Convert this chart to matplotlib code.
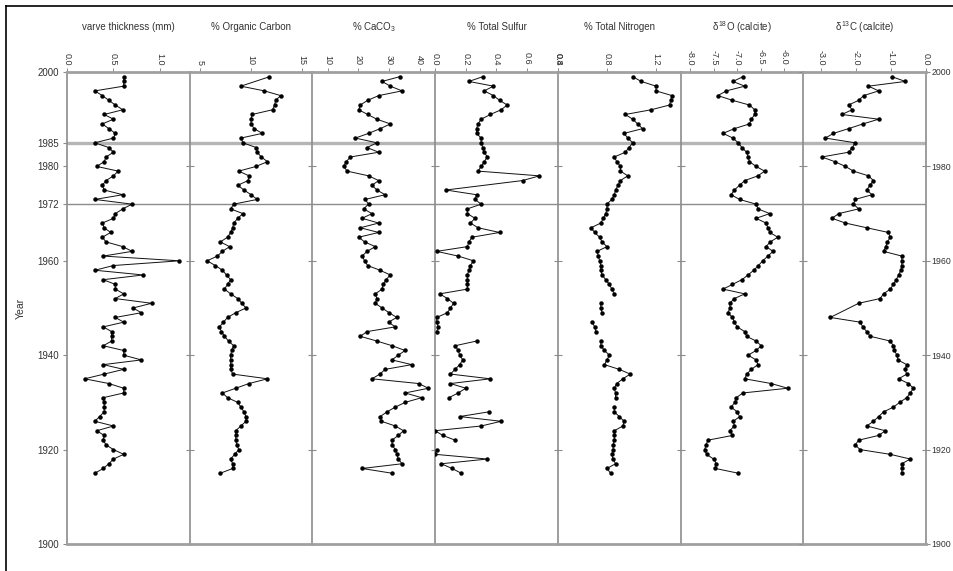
import matplotlib
matplotlib.use("Agg")
import matplotlib.pyplot as plt
import numpy as np
from matplotlib.lines import Line2D

plt.rcParams['font.family'] = ['Liberation Sans', 'DejaVu Sans']
plt.rcParams['mathtext.fontset'] = 'custom'
plt.rcParams['mathtext.rm'] = 'Liberation Sans'
plt.rcParams['mathtext.it'] = 'Liberation Sans'

# ---- data (year, value); nan = gap in the line ----
varve_years = list(range(1999, 1914, -1))
varve = [0.61, 0.61, 0.61, 0.30, 0.38, 0.45, 0.52, 0.60, 0.40, 0.50,
         0.38, 0.45, 0.52, 0.50, 0.30, 0.45, 0.50, 0.42, 0.40, 0.32,
         0.55, 0.50, 0.42, 0.38, 0.40, 0.60, 0.30, 0.70, 0.60, 0.52,
         0.50, 0.38, 0.40, 0.47, 0.38, 0.42, 0.60, 0.70, 0.39, 1.21,
         0.50, 0.30, 0.82, 0.39, 0.52, 0.52, 0.61, 0.52, 0.91, 0.71,
         0.80, 0.52, 0.61, 0.39, 0.48, 0.48, 0.48, 0.39, 0.61, 0.61,
         0.80, 0.39, 0.61, 0.40, 0.19, 0.45, 0.61, 0.61, 0.39, 0.40,
         0.40, 0.40, 0.35, 0.30, 0.50, 0.32, 0.40, 0.39, 0.42, 0.50,
         0.61, 0.50, 0.45, 0.39, 0.30]

oc_years = [1999] + list(range(1997, 1914, -1))
org_carbon = [11.8, 9.0, 11.3, 12.9, 12.4, 12.3, 12.1, 10.1, 10.0, 10.0,
              10.3, 11.1, 9.0, 9.2, 10.5, 10.6, 11.0, 11.6, 10.5, 8.8,
              9.8, 9.7, 8.7, 9.3, 10.0, 10.6, 8.3, 8.0, 9.2, 8.7,
              8.3, 8.2, 8.0, 7.7, 7.0, 7.9, 7.2, 6.7, 5.7, 6.5,
              7.2, 7.6, 8.0, 7.7, 7.4, 8.0, 8.7, 9.1, 9.5, 8.5,
              7.7, 7.3, 6.9, 7.1, 7.4, 7.8, 8.3, 8.1, 8.0, 8.0,
              8.0, 8.0, 8.2, 11.6, 9.8, 8.5, 7.2, 7.7, 8.7, 9.0,
              9.3, 9.5, 9.5, 9.0, 8.5, 8.5, 8.5, 8.6, 8.8, 8.4,
              8.0, 8.2, 8.2, 7.0]

caco3_years = list(range(1999, 1914, -1))
caco3 = [33.4, 27.7, 30.4, 34.2, 26.6, 23.0, 20.6, 20.1, 23.0, 26.0,
         30.4, 27.1, 23.3, 19.0, 26.0, 22.8, 26.6, 17.4, 16.0, 15.2,
         16.3, 23.3, 26.6, 24.4, 26.0, 28.7, 22.2, 23.3, 21.7, 24.4,
         21.2, 26.6, 20.6, 26.6, 20.1, 22.0, 25.5, 22.8, 21.2, 22.0,
         23.0, 27.0, 30.4, 29.0, 28.0, 27.7, 25.5, 26.0, 25.5, 27.7,
         30.0, 32.5, 29.8, 32.0, 22.8, 20.6, 26.0, 31.0, 35.2, 33.0,
         30.9, 37.4, 28.7, 27.0, 24.4, 39.6, 42.8, 35.2, 40.6, 35.2,
         32.0, 29.3, 27.1, 27.5, 32.0, 34.7, 33.0, 30.9, 31.0, 32.0,
         32.5, 33.0, 34.2, 21.2, 30.9]

sulfur_years = [1999, 1998, 1997, 1996, 1995, 1994, 1993, 1992, 1991, 1990,
                1989, 1988, 1987, 1986, 1985, 1984, 1983, 1982, 1981, 1980,
                1979, 1978, 1977, 1975, 1974, 1973, 1972, 1971, 1970, 1969,
                1968, 1967, 1966, 1965, 1964, 1963, 1962, 1961, 1960, 1959,
                1958, 1957, 1956, 1955, 1954, 1953, 1952, 1951, 1950, 1949,
                1948, 1947, 1946, 1945, 1944, 1943, 1942, 1941, 1940, 1939,
                1938, 1937, 1936, 1935, 1934, 1933, 1932, 1931, 1929.5, 1928,
                1927, 1926, 1925, 1924, 1923, 1922, 1921, 1920, 1919, 1918,
                1917, 1916, 1915]
sulfur = [0.31, 0.22, 0.38, 0.32, 0.38, 0.42, 0.47, 0.43, 0.36, 0.30,
          0.28, 0.27, 0.27, 0.30, 0.30, 0.31, 0.32, 0.34, 0.32, 0.30,
          0.28, 0.68, 0.57, 0.07, 0.27, 0.26, 0.30, 0.21, 0.21, 0.26,
          0.23, 0.28, 0.42, 0.24, 0.22, 0.21, 0.01, 0.15, 0.25, 0.23,
          0.22, 0.21, 0.21, 0.21, 0.21, 0.03, 0.08, 0.12, 0.10, 0.08,
          0.01, 0.01, 0.02, 0.01, np.nan, 0.27, 0.13, 0.15, 0.16, 0.18,
          0.16, 0.13, 0.10, 0.36, 0.10, 0.20, 0.15, 0.09, np.nan, 0.35,
          0.16, 0.43, 0.30, 0.00, 0.05, 0.13, np.nan, 0.01, 0.00, 0.34,
          0.04, 0.11, 0.17]

nitrogen_years = [1999, 1998, 1997, 1996, 1995, 1994, 1993, 1992, 1991, 1990,
                  1989, 1988, 1987, 1986, 1985, 1984, 1983, 1982, 1981, 1980,
                  1979, 1978, 1977, 1976, 1975, 1974, 1973, 1972, 1971, 1970,
                  1969, 1968, 1967, 1966, 1965, 1964, 1963, 1962, 1961, 1960,
                  1959, 1958, 1957, 1956, 1955, 1954, 1953, 1952, 1951, 1950,
                  1949, 1948, 1947, 1946, 1945, 1944, 1943, 1942, 1941, 1940,
                  1939, 1938, 1937, 1936, 1935, 1934, 1933, 1932, 1931, 1930,
                  1929, 1928, 1927, 1926, 1925, 1924, 1923, 1922, 1921, 1920,
                  1919, 1918, 1917, 1916, 1915]
nitrogen = [1.01, 1.08, 1.20, 1.20, 1.33, 1.32, 1.31, 1.16, 0.95, 1.01,
            1.05, 1.09, 0.94, 0.97, 1.01, 0.98, 0.95, 0.86, 0.88, 0.91,
            0.91, 0.97, 0.91, 0.89, 0.87, 0.86, 0.84, 0.80, 0.80, 0.79,
            0.77, 0.75, 0.67, 0.70, 0.74, 0.76, 0.80, 0.72, 0.73, 0.74,
            0.75, 0.75, 0.76, 0.79, 0.82, 0.84, 0.86, np.nan, 0.75, 0.75,
            0.76, np.nan, 0.68, 0.70, 0.71, np.nan, 0.75, 0.75, 0.78, 0.82,
            0.80, 0.78, 0.90, 0.99, 0.93, 0.88, 0.86, 0.87, 0.87, np.nan,
            0.86, 0.86, 0.90, 0.94, 0.93, 0.86, 0.86, 0.86, 0.85, 0.85,
            0.84, 0.85, 0.87, 0.80, 0.83]

d18o_years = list(range(1999, 1914, -1))
d18o = [-6.88, -7.09, -6.84, -7.23, -7.41, -7.10, -6.74, -6.63, -6.63, -6.70,
        -6.74, -7.06, -7.30, -7.09, -6.98, -6.90, -6.80, -6.77, -6.74, -6.60,
        -6.42, -6.56, -6.84, -6.95, -7.06, -7.13, -6.95, -6.60, -6.56, -6.31,
        -6.60, -6.39, -6.35, -6.31, -6.14, -6.30, -6.39, -6.24, -6.35, -6.46,
        -6.55, -6.65, -6.77, -6.90, -7.10, -7.30, -6.84, -7.06, -7.16, -7.15,
        -7.20, -7.10, -7.06, -7.00, -6.84, -6.80, -6.60, -6.49, -6.60, -6.77,
        -6.60, -6.56, -6.70, -6.80, -6.84, -6.28, -5.93, -6.88, -7.02, -7.05,
        -7.13, -7.00, -6.95, -7.08, -7.06, -7.16, -7.10, -7.62, -7.66, -7.69,
        -7.65, -7.50, -7.44, -7.46, -6.98]

d13c_years = [1999, 1998, 1997, 1996, 1995, 1994, 1993, 1992, 1991, 1990,
              1989, 1988, 1987, 1986, 1985, 1984, 1983, 1982, 1981, 1980,
              1979, 1978, 1977, 1976, 1975, 1974, 1973, 1972, 1971, 1970,
              1969, 1968, 1967, 1966, 1965, 1964, 1963, 1962, 1961, 1960,
              1959, 1958, 1957, 1956, 1955, 1954, 1953, 1952, 1951, 1948,
              1947, 1946, 1945, 1944, 1943, 1942, 1941, 1940, 1939, 1938,
              1937, 1936, 1935, 1934, 1933, 1932, 1931, 1930, 1929, 1928,
              1927, 1926, 1925, 1924, 1923, 1922, 1921, 1920, 1919, 1918,
              1917, 1916, 1915]
d13c = [-0.97, -0.59, -1.64, -1.35, -1.78, -1.92, -2.21, -2.11, -2.40, -1.35,
        -1.80, -2.21, -2.64, -2.87, -2.02, -2.10, -2.21, -2.97, -2.60, -2.30,
        -2.07, -1.64, -1.50, -1.60, -1.69, -1.54, -2.02, -2.07, -1.92, -2.49,
        -2.68, -2.30, -1.69, -1.07, -1.02, -1.10, -1.15, -1.21, -0.69, -0.69,
        -0.69, -0.72, -0.78, -0.85, -0.93, -1.02, -1.21, -1.31, -1.92, -2.73,
        -1.88, -1.80, -1.69, -1.59, -1.02, -0.93, -0.90, -0.83, -0.80, -0.55,
        -0.60, -0.55, -0.78, -0.50, -0.36, -0.45, -0.55, -0.75, -0.93, -1.21,
        -1.35, -1.50, -1.69, -1.16, -1.35, -1.92, -2.02, -1.88, -1.02, -0.45,
        -0.69, -0.69, -0.69]

titles = ['varve thickness (mm)', '% Organic Carbon', r'% CaCO$_3$',
          '% Total Sulfur', '% Total Nitrogen',
          r'$\delta^{18}$O (calcite)', r'$\delta^{13}$C (calcite)']
xlims = [(0, 1.32), (4, 16), (5, 45), (0, 0.8), (0.4, 1.4), (-8.2, -5.6), (-3.5, 0)]
xticks = [[0.0, 0.5, 1.0], [5, 10, 15], [10, 20, 30, 40],
          [0.0, 0.2, 0.4, 0.6, 0.8], [0.4, 0.8, 1.2],
          [-8.0, -7.5, -7.0, -6.5, -6.0], [-3.0, -2.0, -1.0, 0.0]]
xtick_fmt = ['{:.1f}', '{:.0f}', '{:.0f}', '{:.1f}', '{:.1f}', '{:.1f}', '{:.1f}']

series = [(varve_years, varve), (oc_years, org_carbon), (caco3_years, caco3),
          (sulfur_years, sulfur), (nitrogen_years, nitrogen),
          (d18o_years, d18o), (d13c_years, d13c)]

W, H = 954, 571
fig = plt.figure(figsize=(W / 100, H / 100), dpi=100)

left_px, right_px, top_px, bot_px = 67, 926, 72, 544
pw = (right_px - left_px) / 7
grey = '#8c8c8c'
txt = '#333333'

axes = []
for i in range(7):
    ax = fig.add_axes([(left_px + i * pw) / W, 1 - bot_px / H, pw / W, (bot_px - top_px) / H])
    yrs, vals = series[i]
    ax.plot(vals, yrs, color='#111111', lw=0.7, marker='o', ms=2.2, mfc='black', mec='black', zorder=3)
    ax.set_xlim(*xlims[i])
    ax.set_ylim(1900, 2000)
    ax.axhline(1985, color='#b5b5b5', lw=2.4, zorder=1)
    ax.axhline(1972, color=grey, lw=1.0, zorder=1)

    for s in ['top', 'bottom']:
        ax.spines[s].set_color('#a0a0a0')
        ax.spines[s].set_linewidth(2.0)
    ax.spines['left'].set_color(grey)
    ax.spines['left'].set_linewidth(1.2)
    ax.spines['right'].set_visible(i == 6)
    ax.spines['right'].set_color(grey)
    ax.spines['right'].set_linewidth(1.2)

    ax.xaxis.tick_top()
    ax.set_xticks(xticks[i])
    ax.set_xticklabels([xtick_fmt[i].format(v) for v in xticks[i]], rotation=-90,
                       fontsize=6.5, color=txt)
    ax.tick_params(axis='x', direction='out', length=3, width=0.7, color=grey, pad=2)

    if i == 0:
        ax.set_yticks([1900, 1920, 1940, 1960, 1972, 1980, 1985, 2000])
        ax.set_yticklabels(['1900', '1920', '1940', '1960', '1972', '1980', '1985', '2000'],
                           fontsize=7, color=txt)
        ax.tick_params(axis='y', direction='out', length=3, color=grey, pad=3)
        ax.set_ylabel('Year', fontsize=7.5, color=txt, labelpad=8)
    else:
        ax.set_yticks([1920, 1940, 1960, 1980])
        ax.set_yticklabels([])
        ax.tick_params(axis='y', direction='inout', length=6, width=0.8, color=grey)
    if i == 6:
        ax.tick_params(axis='y', right=True, labelright=True, direction='inout')
        ax.set_yticks([1900, 1920, 1940, 1960, 1980, 2000])
        ax.set_yticklabels(['1900', '1920', '1940', '1960', '1980', '2000'],
                           fontsize=6.3, color=txt)
        ax.tick_params(axis='y', labelleft=False, pad=1)
    axes.append(ax)

    fig.text((left_px + (i + 0.5) * pw) / W, 1 - 27 / H, titles[i],
             ha='center', va='center', fontsize=7, color=txt)

# outer frame (top and left edges of the original figure box)
fig.add_artist(Line2D([6 / W, 6 / W], [0, 1 - 6 / H], color='black', lw=1.2))
fig.add_artist(Line2D([6 / W, 1], [1 - 6 / H, 1 - 6 / H], color='black', lw=1.2))

fig.savefig('out.png', dpi=100)
